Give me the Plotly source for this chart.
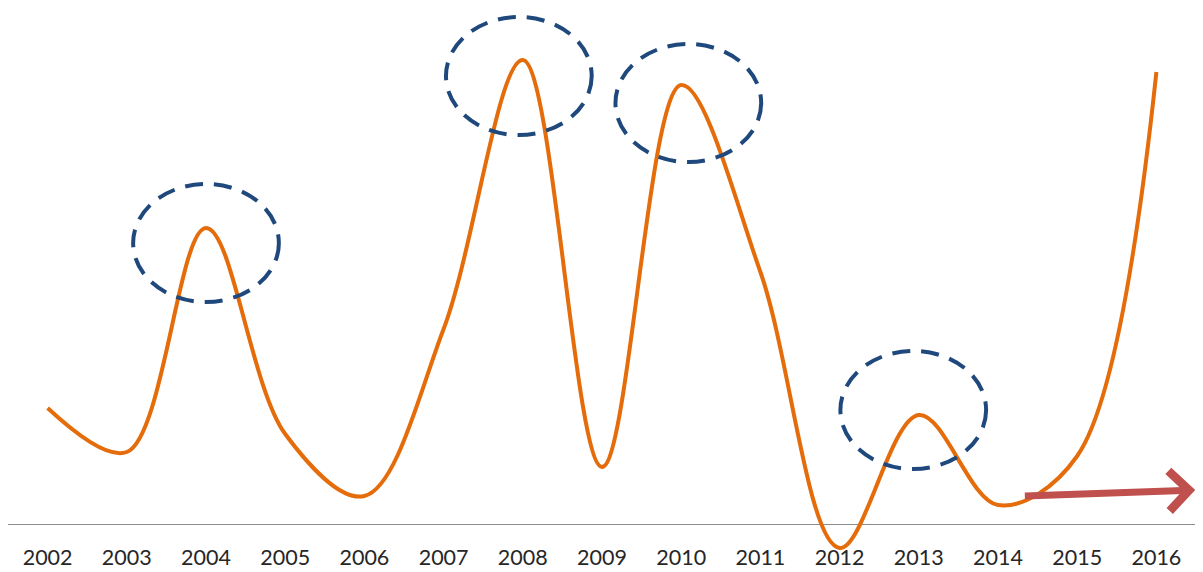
import plotly.graph_objects as go

years = list(range(2002, 2017))
values = [116, 72, 296, 90, 28, 195, 464, 57, 439, 252, -24, 109, 19, 68, 452]
highlight_years = [2004, 2008, 2010, 2013]
highlight_dy = [-15, -16, -18, 5]
highlight_dx = [0.0, -0.05, 0.09, -0.07]
arrow_tail = (2014.32, 28)
arrow_head = (2016.49, 34)

fig = go.Figure()
fig.add_trace(go.Scatter(
    x=years, y=values, mode="lines",
    line=dict(color="#E46C0A", width=4, shape="spline", smoothing=1.0),
    hoverinfo="skip", showlegend=False,
))

for yr, dx, dy in zip(highlight_years, highlight_dx, highlight_dy):
    v = values[years.index(yr)] + dy
    c = yr + dx
    fig.add_shape(type="circle", xref="x", yref="y",
                  x0=c - 0.92, x1=c + 0.92, y0=v - 59, y1=v + 59,
                  line=dict(color="#1F497D", width=4, dash="18px,11px"))

fig.add_annotation(x=arrow_head[0], y=arrow_head[1], xref="x", yref="y",
                   ax=arrow_tail[0], ay=arrow_tail[1], axref="x", ayref="y",
                   showarrow=True, arrowhead=4, arrowsize=1.1,
                   arrowwidth=7, arrowcolor="#C0504D", text="")

fig.update_layout(
    width=1195, height=564,
    margin=dict(l=0, r=7, t=0, b=0),
    plot_bgcolor="white", paper_bgcolor="white",
    xaxis=dict(range=[2001.5, 2016.5], tickvals=years,
               ticktext=[str(y) for y in years],
               showgrid=False, zeroline=False, showline=False,
               ticks="", ticklabelposition="inside",
               tickfont=dict(family="Lato", size=21.5, color="#262626")),
    yaxis=dict(range=[-48, 516], showgrid=False, showticklabels=False,
               zeroline=True, zerolinecolor="#8C8C8C", zerolinewidth=1,
               showline=False),
)

fig.write_html("out.html")
